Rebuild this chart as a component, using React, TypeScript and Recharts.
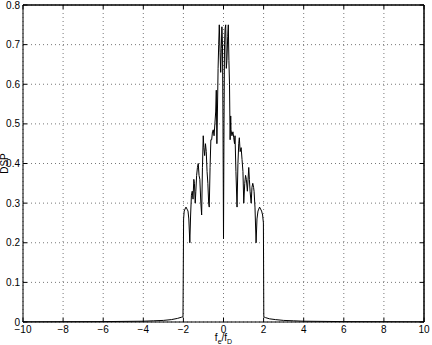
import React from 'react';
import { LineChart, Line, XAxis, YAxis, CartesianGrid, Label, ReferenceLine } from 'recharts';

// normalised frequency f_e / f_D
const freq = [
  -10, -8, -6, -4, -3.5, -3, -2.6, -2.3, -2.1, -2.02,
  -1.99, -1.96, -1.92, -1.87, -1.82, -1.77, -1.73, -1.68, -1.64, -1.6,
  -1.56, -1.52, -1.48, -1.45, -1.41, -1.38, -1.34, -1.3, -1.26, -1.22,
  -1.18, -1.13, -1.09, -1.05, -1.01, -0.98, -0.94, -0.9, -0.86, -0.82,
  -0.78, -0.74, -0.71, -0.67, -0.63, -0.59, -0.55, -0.51, -0.47, -0.43,
  -0.39, -0.36, -0.33, -0.3, -0.27, -0.24, -0.21, -0.17, -0.14, -0.11,
  -0.08, -0.05, -0.025, 0, 0.025, 0.05, 0.08, 0.11, 0.14, 0.17,
  0.21, 0.24, 0.27, 0.3, 0.33, 0.36, 0.375, 0.42, 0.47, 0.51,
  0.55, 0.575, 0.62, 0.675, 0.72, 0.76, 0.79, 0.83, 0.88, 0.925,
  0.97, 1.01, 1.06, 1.1, 1.14, 1.19, 1.26, 1.29, 1.325, 1.38,
  1.42, 1.46, 1.5, 1.525, 1.57, 1.625, 1.67, 1.72, 1.76, 1.8,
  1.85, 1.9, 1.95, 1.99, 2.01, 2.1, 2.3, 2.6, 3, 3.5,
  4, 6, 8, 10,
];

// power spectral density (DSP)
const dsp = [
  0.0005, 0.0008, 0.001, 0.002, 0.003, 0.004, 0.006, 0.009, 0.012, 0.013,
  0.26, 0.28, 0.285, 0.29, 0.285, 0.28, 0.26, 0.2, 0.27, 0.32,
  0.33, 0.31, 0.36, 0.35, 0.3, 0.33, 0.37, 0.39, 0.4, 0.37,
  0.36, 0.3, 0.27, 0.39, 0.47, 0.44, 0.42, 0.45, 0.43, 0.38,
  0.35, 0.3, 0.29, 0.39, 0.46, 0.46, 0.48, 0.485, 0.47, 0.5,
  0.53, 0.585, 0.45, 0.54, 0.64, 0.7, 0.75, 0.68, 0.63, 0.69,
  0.745, 0.7, 0.5, 0.21, 0.5, 0.7, 0.74, 0.75, 0.64, 0.66,
  0.72, 0.75, 0.66, 0.6, 0.46, 0.52, 0.485, 0.47, 0.48, 0.465,
  0.45, 0.47, 0.38, 0.29, 0.4, 0.45, 0.465, 0.43, 0.44, 0.41,
  0.38, 0.3, 0.35, 0.37, 0.36, 0.33, 0.39, 0.36, 0.33, 0.3,
  0.34, 0.35, 0.34, 0.33, 0.29, 0.2, 0.26, 0.28, 0.285, 0.29,
  0.285, 0.28, 0.27, 0.25, 0.013, 0.011, 0.008, 0.006, 0.004, 0.003,
  0.002, 0.001, 0.0008, 0.0005,
];

const xTicks = [-10, -8, -6, -4, -2, 0, 2, 4, 6, 8, 10];
const yTicks = [0, 0.1, 0.2, 0.3, 0.4, 0.5, 0.6, 0.7, 0.8];

const data = freq.map((f, i) => ({ f, dsp: dsp[i] }));

const FONT = '"Liberation Sans", Arial, Helvetica, sans-serif';
const TICK_LEN = 4;

const fmt = (v: number) => (v < 0 ? '\u2212' + Math.abs(v) : String(v));

const BottomTick = (p: any) => (
  <g>
    <line x1={p.x} y1={p.y} x2={p.x} y2={p.y - TICK_LEN} stroke="#000" />
    <text x={p.x} y={p.y + 11} textAnchor="middle" fontSize={10} fontFamily={FONT} fill="#000">
      {fmt(p.payload.value)}
    </text>
  </g>
);

const TopTick = (p: any) => (
  <line x1={p.x} y1={p.y} x2={p.x} y2={p.y + TICK_LEN} stroke="#000" />
);

const LeftTick = (p: any) => (
  <g>
    <line x1={p.x} y1={p.y} x2={p.x + TICK_LEN} y2={p.y} stroke="#000" />
    <text x={p.x - 3} y={p.y + 3.5} textAnchor="end" fontSize={10} fontFamily={FONT} fill="#000">
      {p.payload.value}
    </text>
  </g>
);

const RightTick = (p: any) => (
  <line x1={p.x} y1={p.y} x2={p.x - TICK_LEN} y2={p.y} stroke="#000" />
);

const XLabel = (props: any) => {
  const { x, y, width } = props.viewBox;
  return (
    <text x={x + width / 2} y={y + 19} textAnchor="middle" fontSize={10} fontFamily={FONT} fill="#000">
      f<tspan fontSize={7} dy={3}>e</tspan>
      <tspan dy={-3}>/f</tspan>
      <tspan fontSize={7} dy={3}>D</tspan>
    </text>
  );
};

const YLabel = (props: any) => {
  const { x, y, height } = props.viewBox;
  const cx = x + 8;
  const cy = y + height / 2;
  return (
    <text x={cx} y={cy} transform={`rotate(-90 ${cx} ${cy})`} textAnchor="middle" fontSize={10} fontFamily={FONT} fill="#000">
      DSP
    </text>
  );
};

export default function App() {
  return (
    <div style={{ position: 'absolute', left: 0, top: 0, background: '#fff' }}>
      <LineChart width={432} height={345} data={data} margin={{ top: 4, right: 7, left: 0, bottom: 0 }}>
        <CartesianGrid stroke="#555" strokeDasharray="1 3" strokeWidth={0.8} />
        <XAxis
          dataKey="f"
          type="number"
          domain={[-10, 10]}
          ticks={xTicks}
          height={23}
          tickSize={0}
          tickMargin={0}
          tick={<BottomTick />}
          axisLine={{ stroke: '#000' }}
          interval={0}
        >
          <Label content={<XLabel />} />
        </XAxis>
        <XAxis
          xAxisId="top"
          orientation="top"
          dataKey="f"
          type="number"
          domain={[-10, 10]}
          ticks={xTicks}
          height={1}
          tickSize={0}
          tickMargin={0}
          tick={<TopTick />}
          axisLine={{ stroke: '#000' }}
          interval={0}
        />
        <YAxis
          type="number"
          domain={[0, 0.8]}
          ticks={yTicks}
          width={23}
          tickSize={0}
          tickMargin={0}
          tick={<LeftTick />}
          axisLine={{ stroke: '#000' }}
          interval={0}
        >
          <Label content={<YLabel />} />
        </YAxis>
        <YAxis
          yAxisId="right"
          orientation="right"
          type="number"
          domain={[0, 0.8]}
          ticks={yTicks}
          width={1}
          tickSize={0}
          tickMargin={0}
          tick={<RightTick />}
          axisLine={{ stroke: '#000' }}
          interval={0}
        />
        {/* invisible copy so the top/right box axes get drawn */}
        <Line
          xAxisId="top"
          yAxisId="right"
          type="linear"
          dataKey="dsp"
          stroke="none"
          dot={false}
          legendType="none"
          isAnimationActive={false}
        />
        <ReferenceLine y={0.8} stroke="#000" />
        <ReferenceLine x={10} stroke="#000" />
        <Line
          type="linear"
          dataKey="dsp"
          stroke="#000"
          strokeWidth={1}
          dot={false}
          isAnimationActive={false}
        />
      </LineChart>
    </div>
  );
}
